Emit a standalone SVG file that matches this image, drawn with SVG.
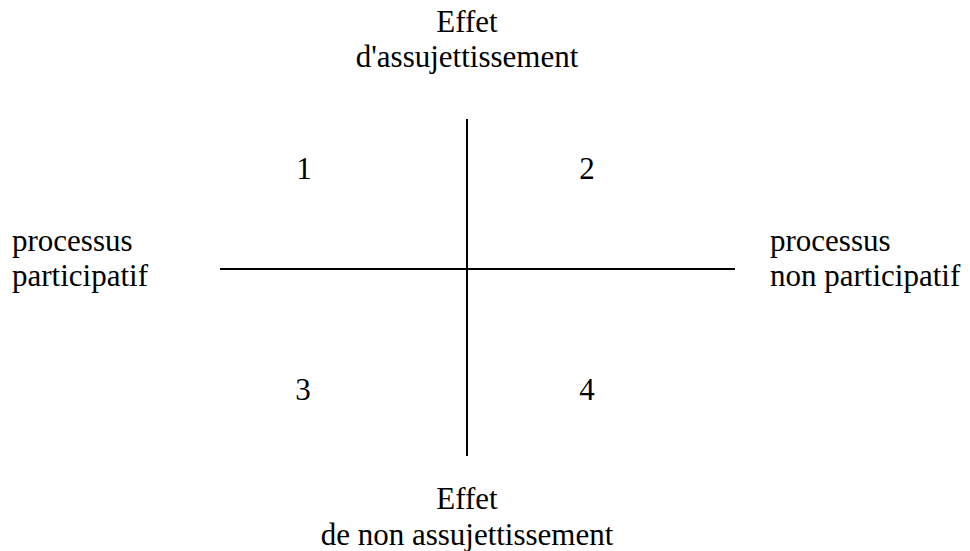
<svg xmlns="http://www.w3.org/2000/svg" width="970" height="551" viewBox="0 0 970 551">
<style>
text{font-family:"Liberation Serif","Times New Roman",serif;font-size:31px;fill:#000}
.c{text-anchor:middle}
.ax{stroke:#000;stroke-width:2;fill:none}
</style>
<rect width="970" height="551" fill="#fff"/>
<g id="connectors">
<line class="ax" x1="467" y1="119" x2="467" y2="456"/>
<line class="ax" x1="220" y1="269" x2="735" y2="269"/>
</g>
<g id="top-label">
<text class="c" x="467" y="32">Effet</text>
<text class="c" x="467" y="67">d'assujettissement</text>
</g>
<g id="bottom-label">
<text class="c" x="467" y="509">Effet</text>
<text class="c" x="467" y="545">de non assujettissement</text>
</g>
<g id="left-label">
<text x="12" y="251">processus</text>
<text x="12" y="286">participatif</text>
</g>
<g id="right-label">
<text x="770" y="251">processus</text>
<text x="770" y="286">non participatif</text>
</g>
<g id="q1"><text class="c" x="304" y="179">1</text></g>
<g id="q2"><text class="c" x="587" y="179">2</text></g>
<g id="q3"><text class="c" x="303" y="400">3</text></g>
<g id="q4"><text class="c" x="587" y="400">4</text></g>
</svg>
